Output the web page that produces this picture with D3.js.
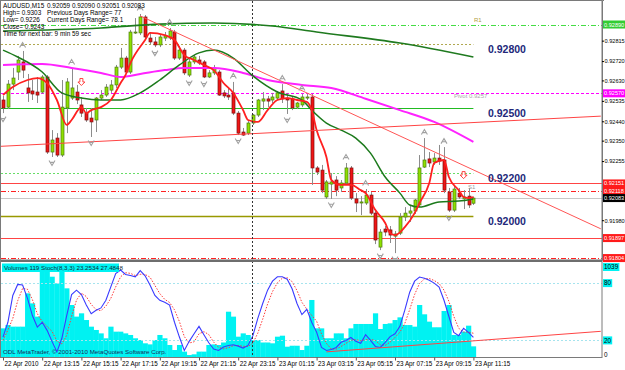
<!DOCTYPE html>
<html>
<head>
<meta charset="utf-8">
<script src="https://cdn.jsdelivr.net/npm/d3@7"></script>
<style>
body { margin: 0; background: #fff; }
svg { display: block; font-family: "Liberation Sans", Arial, sans-serif; }
</style>
</head>
<body>
<svg id="chart" width="625" height="370"></svg>
<script>
// ---- data (AUDUSD M15, 22 Apr 11:15 .. 23 Apr 11:15) ----
const opens = [
0.92539,0.92506,0.92613,0.92669,0.92716,0.92595,0.92581,0.92576,0.92576,0.92646,
0.92297,0.92362,0.92283,0.92502,0.92548,0.92576,0.92516,0.92478,0.92455,0.92446,
0.92548,0.92562,0.92585,0.92609,0.92692,0.92734,0.92669,0.92851,0.92851,0.92925,
0.92827,0.92809,0.92795,0.92827,0.92827,0.92855,0.92734,0.92771,0.92655,0.92716,
0.92725,0.92716,0.92646,0.92665,0.92669,0.92572,0.92562,0.92572,0.92478,0.92390,
0.92385,0.92432,0.92469,0.92534,0.92544,0.92539,0.92548,0.92581,0.92548,0.92544,
0.92506,0.92516,0.92548,0.92553,0.92223,0.92213,0.92088,0.92148,0.92167,0.92130,
0.92153,0.92223,0.92079,0.92060,0.92060,0.92097,0.92013,0.91855,0.91939,0.91935,
0.91906,0.91920,0.91995,0.92013,0.92023,0.92051,0.92227,0.92265,0.92251,0.92269,
0.92260,0.92111,0.92027,0.92106,0.92079,0.92092,0.92059];
const highs = [
0.92558,0.92632,0.92688,0.92744,0.92767,0.92660,0.92632,0.92646,0.92655,0.92655,
0.92399,0.92385,0.92632,0.92641,0.92688,0.92609,0.92553,0.92502,0.92502,0.92553,
0.92585,0.92613,0.92632,0.92702,0.92781,0.92744,0.92865,0.92920,0.92939,0.92934,
0.92855,0.92832,0.92846,0.92855,0.92874,0.92865,0.92790,0.92781,0.92739,0.92748,
0.92744,0.92725,0.92678,0.92702,0.92678,0.92585,0.92599,0.92623,0.92488,0.92409,
0.92441,0.92474,0.92544,0.92576,0.92558,0.92572,0.92581,0.92613,0.92572,0.92558,
0.92530,0.92567,0.92567,0.92567,0.92232,0.92237,0.92167,0.92199,0.92185,0.92167,
0.92246,0.92232,0.92106,0.92092,0.92125,0.92111,0.92023,0.91939,0.91953,0.91953,
0.91930,0.92013,0.92041,0.92051,0.92079,0.92283,0.92362,0.92297,0.92292,0.92330,
0.92320,0.92130,0.92139,0.92130,0.92120,0.92130,0.92090];
const lows = [
0.92478,0.92497,0.92585,0.92632,0.92641,0.92530,0.92539,0.92525,0.92567,0.92288,
0.92274,0.92274,0.92274,0.92385,0.92539,0.92520,0.92460,0.92437,0.92367,0.92390,
0.92539,0.92553,0.92572,0.92595,0.92683,0.92660,0.92660,0.92846,0.92841,0.92823,
0.92799,0.92785,0.92785,0.92813,0.92818,0.92725,0.92725,0.92655,0.92646,0.92706,
0.92702,0.92641,0.92641,0.92655,0.92558,0.92548,0.92539,0.92469,0.92376,0.92372,
0.92376,0.92423,0.92460,0.92492,0.92506,0.92525,0.92539,0.92525,0.92474,0.92492,
0.92497,0.92506,0.92539,0.92144,0.92190,0.92106,0.92079,0.92079,0.92092,0.92111,
0.92148,0.92074,0.92018,0.92004,0.92051,0.92004,0.91869,0.91841,0.91906,0.91874,
0.91827,0.91911,0.91976,0.91972,0.92009,0.92041,0.92223,0.92227,0.92237,0.92237,
0.92106,0.92018,0.92018,0.92079,0.92032,0.92037,0.92051];
const closes = [
0.92502,0.92613,0.92641,0.92725,0.92678,0.92572,0.92567,0.92562,0.92646,0.92297,
0.92353,0.92283,0.92506,0.92623,0.92595,0.92539,0.92478,0.92446,0.92437,0.92548,
0.92562,0.92599,0.92609,0.92692,0.92734,0.92669,0.92855,0.92855,0.92925,0.92832,
0.92809,0.92795,0.92832,0.92837,0.92860,0.92734,0.92771,0.92665,0.92716,0.92739,
0.92711,0.92646,0.92665,0.92688,0.92562,0.92558,0.92553,0.92478,0.92385,0.92376,
0.92432,0.92469,0.92539,0.92544,0.92534,0.92553,0.92572,0.92544,0.92539,0.92502,
0.92525,0.92553,0.92553,0.92223,0.92204,0.92120,0.92158,0.92158,0.92120,0.92153,
0.92223,0.92083,0.92060,0.92065,0.92097,0.92013,0.91888,0.91925,0.91925,0.91911,
0.91916,0.91995,0.92013,0.92023,0.92074,0.92223,0.92260,0.92246,0.92269,0.92255,
0.92120,0.92027,0.92125,0.92088,0.92088,0.92051,0.92083];

const volumes = [
320,357,339,339,339,711,599,451,953,953,
897,823,953,767,581,451,488,413,339,302,
264,209,339,283,283,264,246,209,190,153,
141,190,246,209,134,78,134,60,22,30,
60,60,134,141,134,162,506,451,227,264,
246,190,190,162,162,153,227,238,115,126,
126,78,126,637,320,320,209,209,264,264,
209,320,369,369,369,369,488,313,369,376,
413,443,357,357,339,581,477,395,332,332,
514,581,246,246,283,350,119];

const stochMain = [
23.5,39,67,78.6,78,64,46,34,39,30.5,
19,8,22,46,68,72.6,68,57,48,51.6,
54,62,76,90,93.7,89,88,86.6,93,87.7,
78,67,62,60,57,39,23.5,9.5,19,27,
34.7,26,17.5,11,9.5,13,14.7,15.4,14,12,
14.7,25,43,58.6,72.6,82,86.6,86.6,84,74,
58.6,47,52.6,39,28.7,12.6,9.5,10.5,12.6,18,
20,23,19,17,26,20,13.7,12.6,18,24,
27,34.7,51.6,70.5,82,86.3,85,83,80,75.8,
62,45,28.4,25,32.6,28.4,23.25];
const stochSignal = [
20,31,43,61.5,74.5,73.5,62.7,48,39.7,34.5,
29.5,19.2,16.3,25.3,45.3,62.2,69.5,65.9,57.7,52.2,
51.2,55.9,64,76,86.6,90.9,90.2,87.9,89.2,89.1,
86.2,77.6,69,63,59.7,52,39.8,24,17.3,18.5,
26.9,29.2,26.1,18.2,12.7,11.2,12.4,14.4,14.7,13.8,
13.6,17.2,27.6,42.2,58.1,71.1,80.4,85.1,85.7,81.5,
72.2,59.9,52.7,46.2,40.1,26.8,16.9,10.9,10.9,13.7,
16.9,20.3,20.7,19.7,20.7,21,19.9,15.4,14.8,18.2,
23,28.6,37.8,52.3,68,79.6,84.4,84.8,82.7,79.6,
72.6,60.9,45.1,32.8,28.7,28.7,27.48];

// moving averages, [bar, price]
const maFast = [[0,0.92562],[2,0.92599],[5,0.92632],[7,0.92641],[9,0.92618],[11,0.92539],[13,0.92423],[14,0.92446],[16,0.92506],[17,0.92478],[18,0.92492],[20,0.92506],[22,0.92539],[24,0.92618],[25,0.92655],[26,0.92711],[29,0.92818],[30,0.92851],[33,0.92841],[35,0.92818],[37,0.92748],[39,0.92725],[41,0.92702],[43,0.92678],[45,0.92618],[47,0.92572],[49,0.92492],[50,0.92446],[52,0.92437],[54,0.92492],[56,0.92539],[58,0.92548],[60,0.92539],[62,0.92530],[63,0.92492],[64,0.92399],[66,0.92274],[67,0.92167],[69,0.92144],[71,0.92144],[73,0.92120],[74,0.92106],[76,0.92027],[78,0.91967],[79,0.91920],[80,0.91911],[82,0.91948],[84,0.92013],[85,0.92060],[87,0.92153],[88,0.92246],[90,0.92260],[91,0.92181],[93,0.92120],[94,0.92088],[95,0.92083],[96,0.92088]];
const maMid = [[0,0.92771],[3,0.92739],[8,0.92669],[12,0.92572],[16,0.92548],[20,0.92539],[24,0.92539],[28,0.92572],[32,0.92632],[36,0.92702],[40,0.92758],[43,0.92771],[47,0.92734],[51,0.92651],[56,0.92576],[61,0.92539],[63,0.92492],[66,0.92432],[69,0.92399],[72,0.92362],[75,0.92292],[78,0.92181],[81,0.92106],[83,0.92051],[85,0.92041],[89,0.92065],[93,0.92069],[96,0.92079]];
const maSlow = [[0,0.92702],[8,0.92706],[14,0.92688],[20,0.92665],[24,0.92646],[28,0.92660],[33,0.92678],[37,0.92688],[43,0.92688],[49,0.92665],[54,0.92632],[61,0.92609],[67,0.92595],[74,0.92545],[81,0.92492],[88,0.92437],[96,0.92344]];
const maLong = [[0,0.92860],[20,0.92874],[32,0.92892],[43,0.92897],[55,0.92883],[64,0.92855],[81,0.92804],[96,0.92739]];

// trend lines, [bar, value]
const trendDown = [[28,0.92930],[122,0.91940]];
const trendUp = [[-1,0.92323],[122,0.92464]];
const stochTrend = [[66,8],[122,29.5]];

const fractalUp = [4,14,28,34,47,57,61,70,74,86,90];
const fractalDown = [0,10,18,31,38,41,48,58,67,77,80,91];
const signalBars = [16,94];

const roundLevels = [0.92800, 0.92500, 0.92200, 0.92000];
const pivotR1 = 0.92890, pivotP = 0.92570, pivotS1 = 0.92118, pivotS2 = 0.91804;
const dayHigh = 0.92151, dayLow = 0.91897, bid = 0.92083;

// visible price ticks (the others are hidden under the level boxes)
const priceTicks = [0.92815,0.92720,0.92630,0.92535,0.92440,0.92350,0.92255,0.91980];
const labelBars = [0,8,16,24,32,40,48,56,64,72,80,88,96];
const timeLabels = ['22 Apr 2010','22 Apr 13:15','22 Apr 15:15','22 Apr 17:15','22 Apr 19:15','22 Apr 21:15','22 Apr 23:15','23 Apr 01:15','23 Apr 03:15','23 Apr 05:15','23 Apr 07:15','23 Apr 09:15','23 Apr 11:15'];
const dayStartBar = 51;
const stochLevels = [80, 20];
const volMax = 1039;

const infoLines = [
  ['AUDUSD,M15', '0.92059 0.92090 0.92051 0.92083'],
  ['High= 0.9303', 'Previous Days Range= 77'],
  ['Low= 0.9226', 'Current Days Range= 78.1'],
  ['Close= 0.9243', ''],
  ['Time for next bar: 9 min 59 sec', '']
];

// ---- scales ----
const svg = d3.select('#chart');
const x = d3.scaleLinear().domain([0, 96]).range([3, 473.4]);
const y = d3.scaleLinear().domain([0.93004, 0.91795]).range([0, 260]);
const yStoch = d3.scaleLinear().domain([0, 100]).range([359.5, 264]);
const yVol = d3.scaleLinear().domain([0, volMax]).range([357, 264]);
const barW = x(1) - x(0);
const axisX = 602;

const defs = svg.append('defs');
defs.append('clipPath').attr('id', 'clipMain')
  .append('rect').attr('x', 1).attr('y', 1).attr('width', axisX - 1).attr('height', 258);
defs.append('clipPath').attr('id', 'clipSub')
  .append('rect').attr('x', 1).attr('y', 262).attr('width', axisX - 1).attr('height', 95);

const main = svg.append('g').attr('clip-path', 'url(#clipMain)');
const sub = svg.append('g').attr('clip-path', 'url(#clipSub)');

function hline(g, p, x1, color, dash, w) {
  g.append('line')
    .attr('x1', 1).attr('x2', x1)
    .attr('y1', Math.round(y(p)) + 0.5).attr('y2', Math.round(y(p)) + 0.5)
    .attr('stroke', color).attr('stroke-width', w || 1)
    .attr('stroke-dasharray', dash || null);
}

// ---- horizontal levels ----
const roundStyle = [
  {color: '#b0a850', dash: '2,2', w: 1},
  {color: '#22bb22', dash: null, w: 1},
  {color: '#66dd66', dash: '2,2', w: 1},
  {color: '#999900', dash: null, w: 1.6}
];
roundLevels.forEach((p, i) => hline(main, p, x(96), roundStyle[i].color, roundStyle[i].dash, roundStyle[i].w));
hline(main, pivotR1, axisX, '#44dd44', '5,2,1,2');
hline(main, pivotP, axisX, '#ff00ff', '3,2', 1.1);
hline(main, dayHigh, axisX, '#ff4444');
hline(main, pivotS1, axisX, '#ff2222', '5,2,1,2');
hline(main, bid, axisX, '#c8c8c8');
hline(main, dayLow, axisX, '#ff4444');
hline(main, pivotS2, axisX, '#ff2222', '5,2,1,2');

// day separator
svg.append('line')
  .attr('x1', Math.round(x(dayStartBar)) - 0.5).attr('x2', Math.round(x(dayStartBar)) - 0.5)
  .attr('y1', 1).attr('y2', 357)
  .attr('stroke', '#333').attr('stroke-dasharray', '2,2');

// ---- candles ----
const bars = d3.range(opens.length);
main.append('g').selectAll('line').data(bars).enter().append('line')
  .attr('x1', i => Math.round(x(i)) + 0.5).attr('x2', i => Math.round(x(i)) + 0.5)
  .attr('y1', i => y(highs[i])).attr('y2', i => y(lows[i]))
  .attr('stroke', '#8c8c8c').attr('stroke-width', 1);
main.append('g').selectAll('rect').data(bars).enter().append('rect')
  .attr('x', i => Math.round(x(i)) - 1)
  .attr('width', 3)
  .attr('y', i => y(Math.max(opens[i], closes[i])))
  .attr('height', i => Math.max(1, Math.abs(y(opens[i]) - y(closes[i]))))
  .attr('fill', i => closes[i] >= opens[i] ? '#8ee000' : '#f01515')
  .attr('stroke', i => closes[i] >= opens[i] ? '#4a7a10' : '#7a1010')
  .attr('stroke-width', 0.7);

// ---- moving averages ----
const maLine = d3.line().x(d => x(d[0])).y(d => y(d[1])).curve(d3.curveMonotoneX);
main.append('path').attr('d', maLine(maLong)).attr('fill', 'none').attr('stroke', '#1f7a1f').attr('stroke-width', 1.6);
main.append('path').attr('d', maLine(maSlow)).attr('fill', 'none').attr('stroke', '#ff22ff').attr('stroke-width', 2);
main.append('path').attr('d', maLine(maMid)).attr('fill', 'none').attr('stroke', '#1c7a1c').attr('stroke-width', 1.5);
main.append('path').attr('d', maLine(maFast)).attr('fill', 'none').attr('stroke', '#ff2020').attr('stroke-width', 1.8);

// ---- trend lines ----
const straight = d3.line().x(d => x(d[0])).y(d => y(d[1]));
main.append('path').attr('d', straight(trendDown)).attr('stroke', '#ff5555').attr('stroke-width', 1).attr('fill', 'none');
main.append('path').attr('d', straight(trendUp)).attr('stroke', '#ff4444').attr('stroke-width', 1).attr('fill', 'none');

// ---- fractals and signals ----
main.append('g').selectAll('path').data(fractalUp).enter().append('path')
  .attr('transform', i => `translate(${x(i)},${y(highs[i]) - 6})`)
  .attr('d', 'M-3,2.5L0,-2.5L3,2.5M-1.4,0.6H1.4')
  .attr('fill', 'none').attr('stroke', '#a0a0a0').attr('stroke-width', 1.1);
main.append('g').selectAll('path').data(fractalDown).enter().append('path')
  .attr('transform', i => `translate(${x(i)},${y(lows[i]) + 6})`)
  .attr('d', 'M-3,-2.5L0,2.5L3,-2.5M-1.4,-0.6H1.4')
  .attr('fill', 'none').attr('stroke', '#a0a0a0').attr('stroke-width', 1.1);
main.append('g').selectAll('path').data(signalBars).enter().append('path')
  .attr('transform', i => `translate(${x(i)},${y(highs[i]) - 15})`)
  .attr('d', 'M-1.5,-3.5H1.5V0H3.5L0,3.5L-3.5,0H-1.5Z')
  .attr('fill', '#fff').attr('stroke', '#ff3030').attr('stroke-width', 0.9);

// ---- level captions ----
main.append('g').selectAll('text').data(roundLevels).enter().append('text')
  .attr('x', 488).attr('y', p => y(p) + 9)
  .attr('font-size', 10.5).attr('font-weight', 'bold').attr('fill', '#22287a')
  .text(p => d3.format('.5f')(p));
main.append('text').attr('x', 474).attr('y', y(pivotR1) - 3).attr('font-size', 6).attr('fill', '#b0a040').text('R1');
main.append('text').attr('x', 454).attr('y', y(pivotP) + 5).attr('font-size', 6).attr('fill', '#a8a8a8').text('Pivot  ' + d3.format('.4f')(pivotP));
main.append('text').attr('x', 468).attr('y', y(pivotS1) - 2).attr('font-size', 6).attr('fill', '#a0a0a0').text('S1');

// info text
const info = svg.append('g').attr('font-size', 6.4).attr('fill', '#000');
infoLines.forEach((row, i) => {
  info.append('text').attr('x', 3).attr('y', 8 + i * 7).text(row[0]);
  if (row[1]) info.append('text').attr('x', 47).attr('y', 8 + i * 7).text(row[1]);
});

// ---- lower panel ----
sub.append('g').selectAll('rect').data(bars).enter().append('rect')
  .attr('x', i => x(i) - barW / 2)
  .attr('width', barW + 0.3)
  .attr('y', i => yVol(volumes[i]))
  .attr('height', i => yVol(0) - yVol(volumes[i]))
  .attr('fill', '#00f2f2');
stochLevels.forEach(v => {
  sub.append('line').attr('x1', 1).attr('x2', axisX)
    .attr('y1', Math.round(yStoch(v)) + 0.5).attr('y2', Math.round(yStoch(v)) + 0.5)
    .attr('stroke', '#a6e4ee').attr('stroke-dasharray', '2,2');
});
const stLine = d3.line().x((d, i) => x(i)).y(d => yStoch(d));
sub.append('path').attr('d', stLine(stochSignal)).attr('fill', 'none')
  .attr('stroke', '#ff3a3a').attr('stroke-width', 1).attr('stroke-dasharray', '1.5,1.5');
sub.append('path').attr('d', stLine(stochMain)).attr('fill', 'none')
  .attr('stroke', '#3a3aff').attr('stroke-width', 1.1);
sub.append('path')
  .attr('d', d3.line().x(d => x(d[0])).y(d => yStoch(d[1]))(stochTrend))
  .attr('stroke', '#ff4444').attr('stroke-width', 1).attr('fill', 'none');

svg.append('rect').attr('x', 2).attr('y', 263.5).attr('width', 117).attr('height', 8.5).attr('fill', '#00f2f2');
svg.append('text').attr('x', 4).attr('y', 270).attr('font-size', 6.2).attr('fill', '#0a2a3a')
  .text('Volumes 119  Stoch(8,3,3) 23.2534 27.4848');
svg.append('text').attr('x', 3).attr('y', 354).attr('font-size', 6.2).attr('fill', '#1a2a5a')
  .text('ODL MetaTrader, \u00a9 2001-2010 MetaQuotes Software Corp.');

// ---- frames ----
svg.append('rect').attr('x', 0.5).attr('y', 0.5).attr('width', axisX - 0.5).attr('height', 357)
  .attr('fill', 'none').attr('stroke', '#7a7a7a');
svg.append('rect').attr('x', 1).attr('y', 259.5).attr('width', axisX - 1).attr('height', 2.5).attr('fill', '#6e6e6e');

// ---- right price axis ----
const yAxis = svg.append('g').attr('transform', `translate(${axisX},0)`)
  .call(d3.axisRight(y).tickValues(priceTicks).tickSize(2).tickFormat(d3.format('.5f')));
yAxis.select('.domain').attr('stroke', '#7a7a7a');
yAxis.selectAll('text').attr('font-size', 5.6).attr('font-family', '"Liberation Sans", Arial, sans-serif').attr('x', 2.5).attr('fill', '#000');

const markers = [
  [pivotR1, '#33cc33', '#fff'], [pivotP, '#ff00ff', '#fff'],
  [dayHigh, '#ff1a1a', '#fff'], [pivotS1, '#ff1a1a', '#fff'],
  [bid, '#000', '#fff'], [dayLow, '#ff1a1a', '#fff'], [pivotS2, '#ff1a1a', '#fff']
];
markers.forEach(m => {
  svg.append('rect').attr('x', axisX + 1).attr('y', y(m[0]) - 4).attr('width', 22).attr('height', 8).attr('fill', m[1]);
  svg.append('text').attr('x', axisX + 2).attr('y', y(m[0]) + 2).attr('font-size', 5.6).attr('fill', m[2]).text(d3.format('.5f')(m[0]));
});

// lower panel labels
const subLabels = [[volMax, yVol(volMax) + 3, true], [80, yStoch(80), true], [20, yStoch(20), true], [0, yVol(0) - 2, false]];
subLabels.forEach(s => {
  const t = String(s[0]);
  if (s[2]) svg.append('rect').attr('x', axisX + 1).attr('y', s[1] - 4).attr('width', t.length * 3.6 + 2).attr('height', 8).attr('fill', '#00f2f2');
  svg.append('text').attr('x', axisX + 2).attr('y', s[1] + 2.3).attr('font-size', 6.4).attr('fill', '#000').text(t);
});

// ---- time axis ----
const xAxis = svg.append('g').attr('transform', 'translate(0,357.5)')
  .call(d3.axisBottom(x).tickValues(labelBars).tickSize(3).tickFormat((d, i) => timeLabels[i]));
xAxis.select('.domain').remove();
xAxis.selectAll('.tick line').attr('stroke', '#555');
xAxis.selectAll('text').attr('font-size', 6.3).attr('font-family', '"Liberation Sans", Arial, sans-serif')
  .attr('text-anchor', 'start').attr('x', 1).attr('y', 4).attr('dy', '0.71em').attr('fill', '#000');
</script>
</body>
</html>
